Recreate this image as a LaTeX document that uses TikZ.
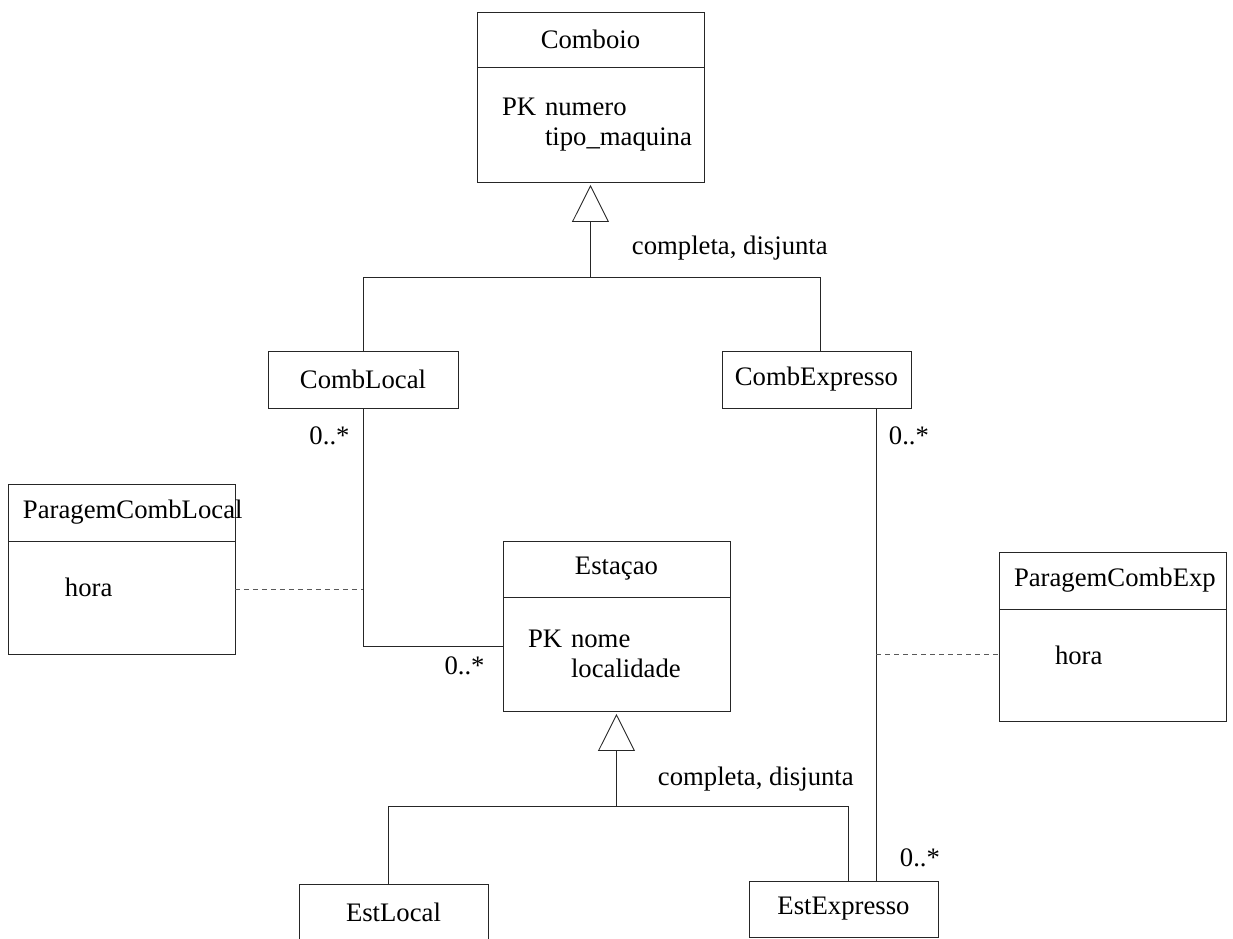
\documentclass[tikz,border=0pt]{standalone}
\usepackage{fontspec}
\setmainfont{Liberation Serif}
\usepackage{tikz}
\usetikzlibrary{positioning,arrows.meta}

\begin{document}
\begin{tikzpicture}[
      x=0.02cm, y=-0.02cm,
      font=\fontsize{15.2pt}{17pt}\selectfont,
      line width=0.5pt, draw=black!85,
      head/.style={rectangle, draw, outer sep=0pt, inner xsep=0pt, text width=4.54cm, align=center, anchor=north west},
      attr/.style={rectangle, draw, outer sep=0pt, inner xsep=0.5cm, text width=3.54cm, align=left},
      cls/.style={rectangle, draw, outer sep=0pt, minimum width=3.78cm, minimum height=1.14cm, anchor=north west},
      mult/.style={inner sep=0pt},
      gen/.style={-{Triangle[open, length=0.74cm, width=0.74cm]}, shorten >=0.06cm},
      dashlink/.style={dash pattern=on 0.1cm off 0.08cm, draw=black!65}
    ]
    \useasboundingbox (0,0) rectangle (1233,938);

    \node[head, minimum height=1.1cm] (comboio) at (477,12) {Comboio};
    \node[attr, minimum height=2.3cm, below=0pt of comboio] (comboioattr) {PK numero\\\hphantom{PK\ }tipo\_maquina};

    \node[cls, minimum width=3.8cm] (comblocal) at (268,351) {CombLocal};
    \node[cls] (combexpresso) at (722,351) {CombExpresso};

    \node[head, inner xsep=0.3cm, text width=3.94cm, align=left, minimum height=1.14cm] (paragemlocal) at (8,484) {ParagemCombLocal};
    \node[attr, inner xsep=1.14cm, text width=2.26cm, text depth=0.4cm, minimum height=2.26cm, below=0pt of paragemlocal] (paragemlocalattr) {hora};

    \node[head, minimum height=1.12cm] (estacao) at (503,541) {Estaçao};
    \node[attr, minimum height=2.28cm, below=0pt of estacao] (estacaoattr) {PK nome\\\hphantom{PK\ }localidade};

    \node[head, inner xsep=0.3cm, text width=3.94cm, align=left, minimum height=1.14cm] (paragemexp) at (999,552) {ParagemCombExp};
    \node[attr, inner xsep=1.12cm, text width=2.3cm, text depth=0.4cm, minimum height=2.24cm, below=0pt of paragemexp] (paragemexpattr) {hora};

    \node[cls, minimum height=1.12cm] (estlocal) at (299,884) {EstLocal};
    \node[cls, minimum height=1.12cm] (estexpresso) at (749,881) {EstExpresso};

    % generalizacao comboio
    \coordinate (topjoint) at (comboioattr.south |- 0,277);
    \draw (comblocal.north) |- (topjoint) -| ([xshift=0.08cm]combexpresso.north);
    \draw[gen] (topjoint) -- (comboioattr.south);
    \node[mult, above right=0.32cm and 0.82cm of topjoint] (gentop) {completa, disjunta};

    % paragem local
    \coordinate (estin) at ([yshift=0.16cm]estacaoattr.west);
    \draw (comblocal.south) |- (estin);
    \node[mult, below left=0.36cm and 0.26cm of comblocal.south] (mlocal1) {0..*};
    \node[mult, below left=0.2cm and 0.36cm of estin] (mlocal2) {0..*};
    \coordinate (locstop) at (comblocal.south |- 0,589);
    \draw[dashlink] (paragemlocalattr.east |- locstop) -- (locstop);

    % paragem expresso
    \coordinate (expout) at ([xshift=1.2cm]combexpresso.south);
    \coordinate (expin) at (expout |- estexpresso.north);
    \draw (expout) -- (expin);
    \node[mult, below right=0.36cm and 0.24cm of expout] (mexp1) {0..*};
    \node[mult, above right=0.28cm and 0.46cm of expin] (mexp2) {0..*};
    \coordinate (expstop) at (expout |- 0,654);
    \draw[dashlink] (expstop) -- (expstop -| paragemexpattr.west);

    % generalizacao estacao
    \coordinate (botjoint) at (estacaoattr.south |- 0,806);
    \draw ([xshift=-0.11cm]estlocal.north) |- (botjoint) -| ([xshift=0.09cm]estexpresso.north);
    \draw[gen] (botjoint) -- (estacaoattr.south);
    \node[mult, above right=0.28cm and 0.82cm of botjoint] (genbot) {completa, disjunta};
\end{tikzpicture}
\end{document}
